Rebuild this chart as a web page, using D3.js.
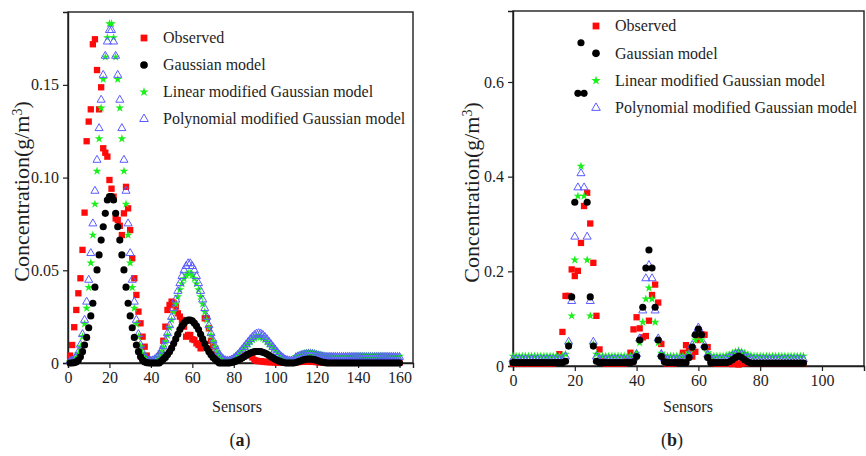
<!DOCTYPE html>
<html>
<head>
<meta charset="utf-8">
<script src="https://cdn.jsdelivr.net/npm/d3@7"></script>
<style>
  html, body { margin: 0; padding: 0; background: #fff; }
  svg { display: block; }
</style>
</head>
<body>
<svg id="chart" width="866" height="456" font-family="'Liberation Serif', 'Times New Roman', serif"></svg>
<script>
// ---------- Panel (a): 160 sensors ----------
const sensorsA = d3.range(1, 161);

const observedA = [
  0.004, 0.0097, 0.0193, 0.0286, 0.0376, 0.0457, 0.061, 0.0811, 0.1196, 0.1302,
  0.1368, 0.1719, 0.1746, 0.158, 0.1368, 0.1487, 0.1158, 0.1134, 0.1113, 0.0987,
  0.094, 0.0897, 0.078, 0.0771, 0.074, 0.069, 0.0807, 0.095, 0.0834, 0.0717,
  0.0565, 0.0457, 0.0367, 0.0277, 0.0214, 0.0142, 0.0088, 0.004, 0.0015, 0.0005,
  0.0005, 0.0005, 0.001, 0.002, 0.005, 0.012, 0.0196, 0.0286, 0.0313, 0.0331,
  0.0322, 0.0304, 0.0268, 0.025, 0.0232, 0.0196, 0.0142, 0.0151, 0.0151, 0.0128,
  0.0124, 0.0106, 0.0097, 0.0079, 0.012, 0.0241, 0.0241, 0.0187, 0.012, 0.0088,
  0.005, 0.003, 0.0015, 0.001, 0.0008, 0.0008, 0.001, 0.0012, 0.0015, 0.002,
  0.0025, 0.003, 0.0035, 0.004, 0.0043, 0.0045, 0.0043, 0.0043, 0.003, 0.0016,
  0.0012, 0.001, 0.001, 0.0008, 0.0006, 0.0005, 0.0005, 0.0004, 0.0004, 0.0003,
  0.0003, 0.0003, 0.0003, 0.0003, 0.0003, 0.0003, 0.0003, 0.0003, 0.0003, 0.0004,
  0.0005, 0.0006, 0.0007, 0.0008, 0.0008, 0.0008, 0.0008, 0.0007, 0.0006, 0.0005,
  0.0004, 0.0003, 0.0003, 0.0003, 0.0003, 0.0003, 0.0003, 0.0003, 0.0003, 0.0003,
  0.0003, 0.0003, 0.0003, 0.0003, 0.0003, 0.0003, 0.0003, 0.0003, 0.0003, 0.0003,
  0.0003, 0.0003, 0.0003, 0.0003, 0.0003, 0.0003, 0.0003, 0.0003, 0.0003, 0.0003,
  0.0003, 0.0003, 0.0003, 0.0003, 0.0003, 0.0003, 0.0003, 0.0003, 0.0003, 0.0003
];

const gaussianA = [
  0, 0, 0.0002, 0.0006, 0.0016, 0.0034, 0.0061, 0.0097, 0.0138, 0.019,
  0.0254, 0.0322, 0.0409, 0.0502, 0.0583, 0.0663, 0.0735, 0.0807, 0.0879, 0.0897,
  0.0897, 0.0879, 0.0807, 0.0735, 0.0663, 0.0583, 0.0502, 0.0409, 0.0322, 0.0254,
  0.019, 0.0138, 0.0097, 0.0061, 0.0034, 0.0016, 0.0006, 0.0002, 0, 0,
  0, 0, 0, 0, 0.001, 0.002, 0.003, 0.0045, 0.006, 0.008,
  0.0105, 0.013, 0.0155, 0.018, 0.02, 0.0215, 0.0227, 0.0232, 0.0232, 0.0227,
  0.0215, 0.02, 0.018, 0.0155, 0.013, 0.0105, 0.008, 0.006, 0.0045, 0.003,
  0.002, 0.001, 0, 0, 0, 0, 0, 0, 0.0003, 0.0006,
  0.001, 0.0015, 0.002, 0.0027, 0.0034, 0.0041, 0.0048, 0.0054, 0.0058, 0.0061,
  0.0062, 0.0062, 0.0061, 0.0058, 0.0054, 0.0048, 0.0041, 0.0034, 0.0027, 0.002,
  0.0015, 0.001, 0.0006, 0.0003, 0, 0, 0, 0, 0, 0.0003,
  0.0007, 0.0011, 0.0015, 0.0018, 0.002, 0.0021, 0.0021, 0.002, 0.0018, 0.0015,
  0.0011, 0.0007, 0.0004, 0.0002, 0, 0, 0, 0, 0, 0,
  0, 0, 0, 0, 0, 0, 0, 0, 0, 0,
  0, 0, 0, 0, 0, 0, 0, 0, 0, 0,
  0, 0, 0, 0, 0, 0, 0, 0, 0, 0
];

const linearA = [
  0.0008, 0.001, 0.0016, 0.0027, 0.0052, 0.0088, 0.0142, 0.021, 0.0296, 0.0407,
  0.054, 0.069, 0.0857, 0.1035, 0.121, 0.1375, 0.153, 0.165, 0.1755, 0.183,
  0.183, 0.1755, 0.165, 0.153, 0.1375, 0.121, 0.1035, 0.0857, 0.069, 0.054,
  0.0407, 0.0296, 0.021, 0.0142, 0.0088, 0.0052, 0.0027, 0.0016, 0.0012, 0.001,
  0.0012, 0.0018, 0.0028, 0.0042, 0.006, 0.0085, 0.0115, 0.015, 0.019, 0.0232,
  0.0275, 0.0318, 0.0358, 0.0395, 0.0428, 0.0455, 0.0473, 0.0484, 0.0484, 0.0473,
  0.0455, 0.0428, 0.0395, 0.0358, 0.0318, 0.0275, 0.0232, 0.019, 0.015, 0.0115,
  0.0085, 0.006, 0.0042, 0.0028, 0.002, 0.0016, 0.0015, 0.0016, 0.002, 0.0026,
  0.0034, 0.0044, 0.0055, 0.0067, 0.0079, 0.0091, 0.0103, 0.0115, 0.0126, 0.0134,
  0.014, 0.0142, 0.014, 0.0134, 0.0126, 0.0115, 0.0103, 0.0091, 0.0079, 0.0067,
  0.0055, 0.0044, 0.0034, 0.0026, 0.002, 0.0017, 0.0016, 0.0016, 0.0018, 0.0035,
  0.004, 0.0044, 0.0048, 0.0051, 0.0053, 0.0054, 0.0054, 0.0053, 0.0051, 0.0048,
  0.0045, 0.0042, 0.004, 0.0038, 0.0037, 0.0037, 0.0037, 0.0037, 0.0037, 0.0037,
  0.0037, 0.0037, 0.0037, 0.0037, 0.0037, 0.0037, 0.0037, 0.0037, 0.0037, 0.0037,
  0.0037, 0.0037, 0.0037, 0.0037, 0.0037, 0.0037, 0.0037, 0.0037, 0.0037, 0.0037,
  0.0037, 0.0037, 0.0037, 0.0037, 0.0037, 0.0037, 0.0037, 0.0037, 0.0037, 0.0037
];

const polynomialA = [
  0.001, 0.0013, 0.002, 0.0035, 0.0058, 0.0098, 0.0155, 0.0232, 0.033, 0.0448,
  0.0592, 0.0752, 0.0928, 0.1095, 0.1266, 0.1419, 0.1553, 0.1656, 0.1733, 0.1795,
  0.1795, 0.1733, 0.1656, 0.1553, 0.1419, 0.1266, 0.1095, 0.0928, 0.0752, 0.0592,
  0.0448, 0.033, 0.0232, 0.0155, 0.0098, 0.0058, 0.0035, 0.002, 0.0013, 0.0012,
  0.0014, 0.002, 0.003, 0.0045, 0.0065, 0.009, 0.0122, 0.016, 0.0203, 0.0248,
  0.0295, 0.0342, 0.0388, 0.043, 0.0468, 0.0499, 0.0522, 0.0537, 0.0537, 0.0522,
  0.0499, 0.0468, 0.043, 0.0388, 0.0342, 0.0295, 0.0248, 0.0203, 0.016, 0.0122,
  0.009, 0.0065, 0.0045, 0.003, 0.002, 0.0014, 0.0012, 0.0013, 0.0018, 0.0025,
  0.0034, 0.0045, 0.0058, 0.0072, 0.0086, 0.01, 0.0114, 0.0128, 0.014, 0.0151,
  0.0158, 0.016, 0.0158, 0.0151, 0.014, 0.0128, 0.0114, 0.01, 0.0086, 0.0072,
  0.0058, 0.0045, 0.0034, 0.0025, 0.0018, 0.0014, 0.0012, 0.0012, 0.0014, 0.003,
  0.0035, 0.0039, 0.0043, 0.0046, 0.0048, 0.0049, 0.0049, 0.0048, 0.0046, 0.0043,
  0.004, 0.0037, 0.0035, 0.0033, 0.0032, 0.0032, 0.0032, 0.0032, 0.0032, 0.0032,
  0.0032, 0.0032, 0.0032, 0.0032, 0.0032, 0.0032, 0.0032, 0.0032, 0.0032, 0.0032,
  0.0032, 0.0032, 0.0032, 0.0032, 0.0032, 0.0032, 0.0032, 0.0032, 0.0032, 0.0032,
  0.0032, 0.0032, 0.0032, 0.0032, 0.0032, 0.0032, 0.0032, 0.0032, 0.0032, 0.0032
];

// ---------- Panel (b): 95 sensors ----------
const sensorsB = d3.range(0, 95);

const observedB = [
  0.005, 0.005, 0.005, 0.005, 0.005, 0.005, 0.005, 0.005, 0.005, 0.005,
  0.005, 0.005, 0.005, 0.005, 0.008, 0.025, 0.072, 0.148, 0.148, 0.204,
  0.19, 0.201, 0.26, 0.338, 0.366, 0.301, 0.218, 0.106, 0.035, 0.01,
  0.005, 0.005, 0.005, 0.005, 0.005, 0.005, 0.005, 0.012, 0.028, 0.0774,
  0.103, 0.0795, 0.0606, 0.0633, 0.0957, 0.15, 0.172, 0.134, 0.0465, 0.012,
  0.005, 0.005, 0.005, 0.008, 0.016, 0.028, 0.044, 0.035, 0.02, 0.03,
  0.055, 0.067, 0.066, 0.04, 0.015, 0.006, 0.005, 0.005, 0.005, 0.005,
  0.005, 0.004, 0.006, 0.003, 0.005, 0.006, 0.006, 0.006, 0.006, 0.006,
  0.006, 0.006, 0.006, 0.006, 0.006, 0.006, 0.006, 0.006, 0.006, 0.006,
  0.006, 0.006, 0.006, 0.006, 0.006
];

const gaussianB = [
  0.007, 0.007, 0.007, 0.007, 0.007, 0.007, 0.007, 0.007, 0.007, 0.007,
  0.007, 0.007, 0.007, 0.007, 0.007, 0.007, 0.007, 0.01, 0.042, 0.146,
  0.346, 0.576, 0.683, 0.576, 0.346, 0.146, 0.042, 0.01, 0.007, 0.007,
  0.007, 0.007, 0.007, 0.007, 0.007, 0.007, 0.007, 0.007, 0.007, 0.009,
  0.02, 0.055, 0.124, 0.207, 0.245, 0.207, 0.124, 0.055, 0.02, 0.009,
  0.007, 0.007, 0.007, 0.007, 0.007, 0.007, 0.007, 0.018, 0.04, 0.066,
  0.078, 0.066, 0.04, 0.018, 0.007, 0.007, 0.007, 0.007, 0.007, 0.007,
  0.009, 0.013, 0.018, 0.021, 0.018, 0.013, 0.009, 0.006, 0.006, 0.006,
  0.006, 0.006, 0.006, 0.006, 0.006, 0.006, 0.006, 0.006, 0.006, 0.006,
  0.006, 0.006, 0.006, 0.006, 0.006
];

const linearB = [
  0.021, 0.021, 0.021, 0.021, 0.021, 0.021, 0.021, 0.021, 0.021, 0.021,
  0.021, 0.021, 0.021, 0.021, 0.021, 0.021, 0.021, 0.025, 0.046, 0.106,
  0.224, 0.359, 0.422, 0.359, 0.224, 0.106, 0.046, 0.025, 0.021, 0.021,
  0.021, 0.021, 0.021, 0.021, 0.021, 0.021, 0.021, 0.021, 0.021, 0.022,
  0.027, 0.049, 0.0925, 0.1415, 0.165, 0.1415, 0.0925, 0.049, 0.027, 0.022,
  0.021, 0.021, 0.021, 0.021, 0.021, 0.021, 0.022, 0.028, 0.04, 0.055,
  0.066, 0.055, 0.04, 0.028, 0.022, 0.021, 0.021, 0.021, 0.021, 0.022,
  0.024, 0.027, 0.03, 0.032, 0.03, 0.027, 0.024, 0.022, 0.021, 0.021,
  0.021, 0.021, 0.021, 0.021, 0.021, 0.021, 0.021, 0.021, 0.021, 0.021,
  0.021, 0.021, 0.021, 0.021, 0.021
];

const polynomialB = [
  0.014, 0.014, 0.014, 0.014, 0.014, 0.014, 0.014, 0.014, 0.014, 0.014,
  0.014, 0.014, 0.014, 0.014, 0.014, 0.014, 0.014, 0.02, 0.051, 0.137,
  0.273, 0.377, 0.407, 0.377, 0.273, 0.137, 0.051, 0.02, 0.014, 0.014,
  0.014, 0.014, 0.014, 0.014, 0.014, 0.014, 0.014, 0.014, 0.014, 0.016,
  0.025, 0.058, 0.117, 0.185, 0.213, 0.185, 0.117, 0.058, 0.025, 0.016,
  0.014, 0.014, 0.014, 0.014, 0.014, 0.014, 0.016, 0.024, 0.044, 0.068,
  0.081, 0.068, 0.044, 0.024, 0.016, 0.014, 0.014, 0.014, 0.014, 0.015,
  0.018, 0.021, 0.025, 0.027, 0.025, 0.021, 0.018, 0.015, 0.014, 0.014,
  0.014, 0.014, 0.014, 0.014, 0.014, 0.014, 0.014, 0.014, 0.014, 0.014,
  0.014, 0.014, 0.014, 0.014, 0.014
];

// ---------- Axis ticks and labels ----------
const xTicksA = [0, 20, 40, 60, 80, 100, 120, 140, 160];
const yTicksA = [0, 0.05, 0.10, 0.15];
const yTickLabelsA = ["0", "0.05", "0.10", "0.15"];
const xTicksB = [0, 20, 40, 60, 80, 100];
const yTicksB = [0, 0.2, 0.4, 0.6];
const yTickLabelsB = ["0", "0.2", "0.4", "0.6"];

const seriesNames = [
  "Observed",
  "Gaussian model",
  "Linear modified Gaussian model",
  "Polynomial modified Gaussian model"
];

const FONT = "'Liberation Serif', 'Times New Roman', serif";
const INK = "#1e1e1e";

// ---------- Marker styles ----------
const styles = {
  observed:   { type: d3.symbolSquare,   size: 40, fill: "#ff0a0a", stroke: "none" },
  gaussian:   { type: d3.symbolCircle,   size: 40, fill: "#000",    stroke: "none" },
  linear:     { type: d3.symbolStar,     size: 24, fill: "#1cf01c", stroke: "none" },
  polynomial: { type: d3.symbolTriangle, size: 28, fill: "none",    stroke: "#5b5bff" }
};
const legendOrder = ["observed", "gaussian", "linear", "polynomial"];
const drawOrder = ["observed", "linear", "polynomial", "gaussian"];

const svg = d3.select("#chart");

function drawPanel(cfg) {
  const x = d3.scaleLinear().domain(cfg.xDomain).range([cfg.left, cfg.right]);
  const y = d3.scaleLinear().domain(cfg.yDomain).range([cfg.bottom, cfg.top]);
  const g = svg.append("g");

  // frame
  g.append("rect")
    .attr("x", cfg.left).attr("y", cfg.top)
    .attr("width", cfg.right - cfg.left).attr("height", cfg.bottom - cfg.top)
    .attr("fill", "none").attr("stroke", INK).attr("stroke-width", 1.4);

  // axes
  const xAxis = d3.axisBottom(x).tickValues(cfg.xTicks).tickFormat(d3.format("d"))
    .tickSize(5).tickPadding(4);
  const yAxis = d3.axisLeft(y).tickValues(cfg.yTicks)
    .tickFormat((d, i) => cfg.yTickLabels[i]).tickSize(5).tickPadding(4);

  const gx = g.append("g").attr("transform", `translate(0,${cfg.bottom})`).call(xAxis);
  const gy = g.append("g").attr("transform", `translate(${cfg.left},0)`).call(yAxis);
  [gx, gy].forEach(a => {
    a.attr("font-family", FONT).attr("font-size", 16);
    a.select(".domain").attr("stroke", INK).attr("stroke-width", 1.4);
    a.selectAll(".tick line").attr("stroke", INK).attr("stroke-width", 1.2);
    a.selectAll(".tick text").attr("fill", INK);
  });

  // points
  const plot = g.append("g");
  drawOrder.forEach(key => {
    const st = styles[key];
    const vals = cfg.series[key];
    const sym = d3.symbol().type(st.type).size(st.size);
    plot.selectAll(null)
      .data(vals.map((v, i) => [cfg.sensors[i], v]))
      .join("path")
      .attr("d", sym)
      .attr("transform", d => `translate(${x(d[0])},${y(d[1])})`)
      .attr("fill", st.fill)
      .attr("stroke", st.stroke)
      .attr("stroke-width", st.stroke === "none" ? 0 : 1);
  });

  // legend
  const lg = g.append("g").attr("font-family", FONT).attr("font-size", 16).attr("fill", INK);
  legendOrder.forEach((key, i) => {
    const st = styles[key];
    const yy = cfg.legendY + i * cfg.legendStep;
    lg.append("path")
      .attr("d", d3.symbol().type(st.type).size(st.size * 1.15))
      .attr("transform", `translate(${cfg.legendX},${yy})`)
      .attr("fill", st.fill).attr("stroke", st.stroke)
      .attr("stroke-width", st.stroke === "none" ? 0 : 1);
    lg.append("text")
      .attr("x", cfg.legendX + 19).attr("y", yy).attr("dy", "0.33em")
      .text(seriesNames[i]);
  });

  // axis titles
  const yt = g.append("text")
    .attr("transform", `translate(${cfg.yTitleX},${(cfg.top + cfg.bottom) / 2 + 4}) rotate(-90)`)
    .attr("text-anchor", "middle")
    .attr("font-family", FONT).attr("font-size", 22).attr("fill", INK);
  yt.append("tspan").text("Concentration(g/m");
  yt.append("tspan").attr("baseline-shift", "super").attr("font-size", 14).text("3");
  yt.append("tspan").text(")");

  g.append("text")
    .attr("x", cfg.xTitleX).attr("y", 412)
    .attr("text-anchor", "middle")
    .attr("font-family", FONT).attr("font-size", 16).attr("fill", INK)
    .text("Sensors");

  const cap = g.append("text")
    .attr("x", cfg.capX).attr("y", 446)
    .attr("text-anchor", "middle")
    .attr("font-family", FONT).attr("font-size", 18).attr("fill", INK);
  cap.append("tspan").text("(");
  cap.append("tspan").attr("font-weight", "bold").text(cfg.cap);
  cap.append("tspan").text(")");
}

drawPanel({
  left: 68, right: 413, top: 12, bottom: 363,
  xDomain: [0, 166.5], yDomain: [0, 0.1893],
  xTicks: xTicksA, yTicks: yTicksA, yTickLabels: yTickLabelsA,
  sensors: sensorsA,
  series: { observed: observedA, gaussian: gaussianA, linear: linearA, polynomial: polynomialA },
  legendX: 144, legendY: 38, legendStep: 27,
  yTitleX: 29, xTitleX: 237, capX: 240, cap: "a"
});

drawPanel({
  left: 513, right: 864, top: 11, bottom: 366,
  xDomain: [0, 113.6], yDomain: [0, 0.75],
  xTicks: xTicksB, yTicks: yTicksB, yTickLabels: yTickLabelsB,
  sensors: sensorsB,
  series: { observed: observedB, gaussian: gaussianB, linear: linearB, polynomial: polynomialB },
  legendX: 596, legendY: 26, legendStep: 27.3,
  yTitleX: 479, xTitleX: 688, capX: 672, cap: "b"
});
</script>
</body>
</html>
